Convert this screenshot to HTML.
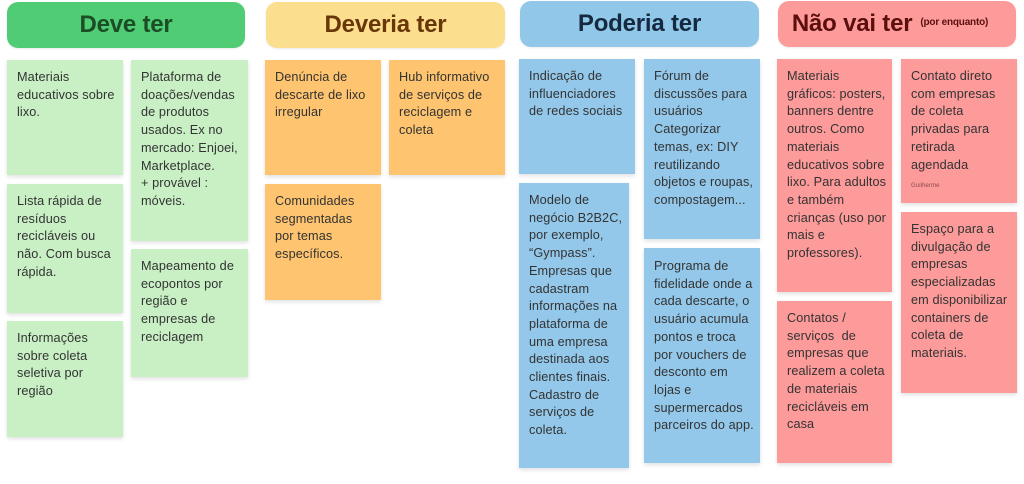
<!DOCTYPE html>
<html><head><meta charset="utf-8"><style>
body{margin:0;width:1024px;height:484px;background:#fff;position:relative;overflow:hidden;font-family:"Liberation Sans",sans-serif}
.h{position:absolute;height:46px;border-radius:11px;display:flex;align-items:center;justify-content:center;font-weight:bold;font-size:24px;letter-spacing:-0.2px;box-shadow:0 1px 2px rgba(0,0,0,.08)}
.c{position:absolute;box-sizing:border-box;padding:9px 4px 0 10px;font-size:12.7px;letter-spacing:0.1px;line-height:17.7px;color:#333;box-shadow:0 2px 4px rgba(0,0,0,.12);white-space:nowrap;overflow:hidden}
.g{background:#c9f0c5}.o{background:#fec46f}.b{background:#93c8ea}.r{background:#fd9a9a}
</style></head><body>
<div class="h" style="left:7px;top:2px;width:238px;background:#50cd74;color:#1b4d27">Deve ter</div>
<div class="h" style="left:266px;top:2px;width:239px;background:#fbdf8f;color:#693608">Deveria ter</div>
<div class="h" style="left:520px;top:1px;width:239px;background:#91c8ea;color:#15293f">Poderia ter</div>
<div class="h" style="left:778px;top:1px;width:238px;background:#fd9b9b;color:#5a0e0e"><span style="margin-left:-14px">Não vai ter</span><span style="font-size:10px;margin-left:8px;margin-top:-4px">(por enquanto)</span></div>

<div class="c g" style="left:7px;top:60px;width:116px;height:115px">Materiais<br>educativos sobre<br>lixo.</div>
<div class="c g" style="left:7px;top:184px;width:116px;height:129px">Lista rápida de<br>resíduos<br>recicláveis ou<br>não. Com busca<br>rápida.</div>
<div class="c g" style="left:7px;top:321px;width:116px;height:116px">Informações<br>sobre coleta<br>seletiva por<br>região</div>
<div class="c g" style="left:131px;top:60px;width:117px;height:181px">Plataforma de<br>doações/vendas<br>de produtos<br>usados. Ex no<br>mercado: Enjoei,<br>Marketplace.<br>+ provável :<br>móveis.</div>
<div class="c g" style="left:131px;top:249px;width:117px;height:128px">Mapeamento de<br>ecopontos por<br>região e<br>empresas de<br>reciclagem</div>

<div class="c o" style="left:265px;top:60px;width:116px;height:115px">Denúncia de<br>descarte de lixo<br>irregular</div>
<div class="c o" style="left:389px;top:60px;width:116px;height:115px">Hub informativo<br>de serviços de<br>reciclagem e<br>coleta</div>
<div class="c o" style="left:265px;top:184px;width:116px;height:116px">Comunidades<br>segmentadas<br>por temas<br>específicos.</div>

<div class="c b" style="left:519px;top:59px;width:116px;height:115px">Indicação de<br>influenciadores<br>de redes sociais</div>
<div class="c b" style="left:519px;top:183px;width:110px;height:285px">Modelo de<br>negócio B2B2C,<br>por exemplo,<br>“Gympass”.<br>Empresas que<br>cadastram<br>informações na<br>plataforma de<br>uma empresa<br>destinada aos<br>clientes finais.<br>Cadastro de<br>serviços de<br>coleta.</div>
<div class="c b" style="left:644px;top:59px;width:116px;height:180px">Fórum de<br>discussões para<br>usuários<br>Categorizar<br>temas, ex: DIY<br>reutilizando<br>objetos e roupas,<br>compostagem...</div>
<div class="c b" style="left:644px;top:248px;width:116px;height:215px;padding-top:10px">Programa de<br>fidelidade onde a<br>cada descarte, o<br>usuário acumula<br>pontos e troca<br>por vouchers de<br>desconto em<br>lojas e<br>supermercados<br>parceiros do app.</div>

<div class="c r" style="left:777px;top:59px;width:115px;height:233px">Materiais<br>gráficos: posters,<br>banners dentre<br>outros. Como<br>materiais<br>educativos sobre<br>lixo. Para adultos<br>e também<br>crianças (uso por<br>mais e<br>professores).</div>
<div class="c r" style="left:777px;top:301px;width:115px;height:162px">Contatos /<br>serviços &nbsp;de<br>empresas que<br>realizem a coleta<br>de materiais<br>recicláveis em<br>casa</div>
<div class="c r" style="left:901px;top:59px;width:116px;height:144px">Contato direto<br>com empresas<br>de coleta<br>privadas para<br>retirada<br>agendada<div style="font-size:6px;line-height:8px;color:#8a4a4a;margin-top:8px">Guilherme</div></div>
<div class="c r" style="left:901px;top:212px;width:116px;height:181px">Espaço para a<br>divulgação de<br>empresas<br>especializadas<br>em disponibilizar<br>containers de<br>coleta de<br>materiais.</div>
</body></html>
